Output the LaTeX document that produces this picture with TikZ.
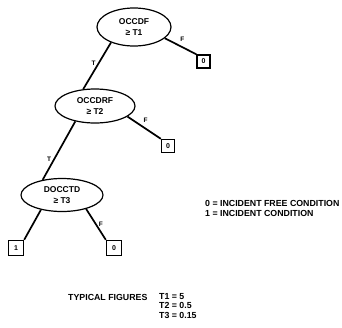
\documentclass[tikz,border=0pt]{standalone}
\usepackage{fontspec}
\setmainfont{Liberation Sans}
\usetikzlibrary{shapes.geometric}

\begin{document}
\begin{tikzpicture}[
    x=1pt, y=-1pt,
    test/.style={
        ellipse,
        draw,
        line width=1.2pt,
        inner sep=0pt,
        align=center,
        font=\bfseries\fontsize{8.5}{11}\selectfont
    },
    leaf/.style={draw, line width=1.4pt, minimum size=13pt, inner sep=0pt, font=\bfseries\fontsize{7}{7}\selectfont},
    branch/.style={line width=1.7pt},
    lbl/.style={font=\bfseries\fontsize{6.5}{7}\selectfont, inner sep=2pt},
    note/.style={font=\bfseries\fontsize{8.8}{9.5}\selectfont, align=left, anchor=west, inner sep=0pt}
]
\useasboundingbox (0,0) rectangle (342,327);

% Threshold tests (top to bottom)
\node[test, minimum width=74pt, minimum height=38pt] (t1) at (134,27) {OCCDF\\≥ T1};
\node[test, minimum width=80pt, minimum height=34pt] (t2) at (95,106) {OCCDRF\\≥ T2};
\node[test, minimum width=82pt, minimum height=33pt] (t3) at (62,195) {DOCCTD\\≥ T3};

% Outcome boxes
\node[leaf] (o1) at (203.5,61.5) {0};
\node[leaf] (o2) at (168,146) {0};
\node[leaf, minimum size=15pt] (o3) at (16,248) {1};
\node[leaf, minimum size=15pt] (o4) at (114,248) {0};

% Branches
\draw[branch] (t1.214) -- node[lbl, left, pos=0.45] {T} (t2.125);
\draw[branch] (t1.340) -- node[lbl, above right, pos=0.4] {F} (o1.north west);
\draw[branch] (t2.218) -- node[lbl, left, pos=0.65] {T} (t3.142);
\draw[branch] (t2.342) -- node[lbl, above right, pos=0.4] {F} (o2.north west);
\draw[branch] (t3.215) -- (o3.north east);
\draw[branch] (t3.330) -- node[lbl, right, pos=0.5] {F} (o4.north west);

% Key and typical figures
\node[note] (key) at (205,208.5) {0 = INCIDENT FREE CONDITION\\1 = INCIDENT CONDITION};
\node[note] (typ) at (68,297) {TYPICAL FIGURES};
\node[note] (vals) at (159,306) {T1 = 5\\T2 = 0.5\\T3 = 0.15};

\end{tikzpicture}
\end{document}
